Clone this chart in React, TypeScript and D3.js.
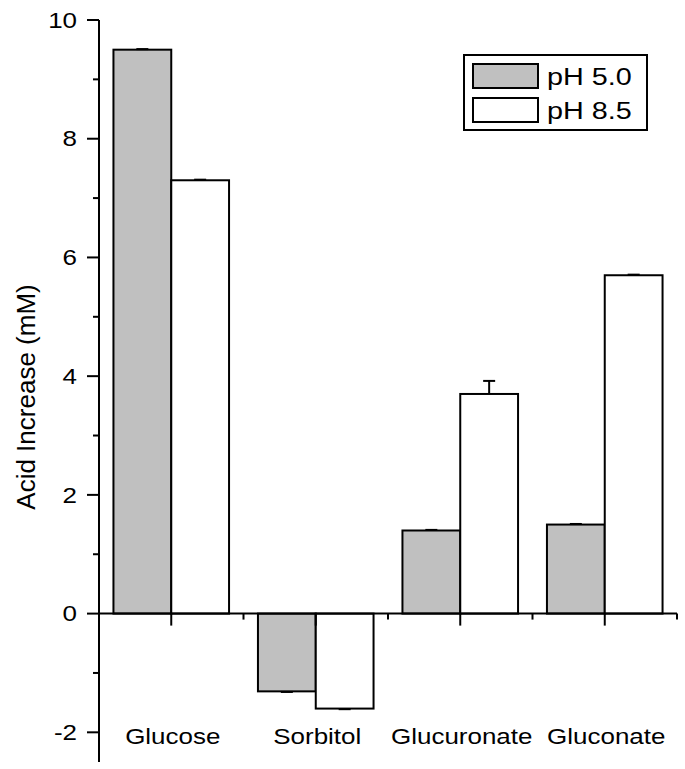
import * as d3 from "d3";

const categories = ["Glucose", "Sorbitol", "Glucuronate", "Gluconate"];
const seriesNames = ["pH 5.0", "pH 8.5"];
const ph50 = [9.5, -1.31, 1.4, 1.5];
const ph85 = [7.3, -1.6, 3.7, 5.7];
const ph50Err = [0.01, 0.01, 0.01, 0.01];
const ph85Err = [0.01, 0.01, 0.22, 0.01];
const yTicks = [-2, 0, 2, 4, 6, 8, 10];

const W = 685;
const H = 769;
const left = 99;
const right = 677;
const top = 20;
const bottom = 762;
const fills = ["#c0c0c0", "#ffffff"];
const font = "Liberation Sans, Arial, sans-serif";
// the source glyphs are a little wider than Liberation Sans
const stretch = 1.18;

export default function App() {
  const y = d3.scaleLinear().domain([-2.5, 10]).range([bottom, top]);
  const x = d3.scaleBand().domain(categories).range([left, right]).paddingInner(0).paddingOuter(0);
  const inner = d3
    .scaleBand()
    .domain(seriesNames)
    .range([x.bandwidth() * 0.1, x.bandwidth() * 0.9]);
  const series = [ph50, ph85];
  const errs = [ph50Err, ph85Err];

  return (
    <svg width={W} height={H} style={{ position: "absolute", left: 0, top: 0, background: "#fff" }}>
      {/* bars */}
      {categories.map((c, i) =>
        seriesNames.map((s, j) => {
          const v = series[j][i];
          const bx = x(c)! + inner(s)!;
          const bw = inner.bandwidth();
          const y0 = y(0);
          const y1 = y(v);
          const e = errs[j][i];
          const ey = y(v + (v >= 0 ? e : -e));
          const cx = bx + bw / 2;
          return (
            <g key={c + s}>
              <rect
                x={bx}
                y={Math.min(y0, y1)}
                width={bw}
                height={Math.abs(y1 - y0)}
                fill={fills[j]}
                stroke="#000"
                strokeWidth={2}
              />
              <line x1={cx} x2={cx} y1={y1} y2={ey} stroke="#000" strokeWidth={2} />
              <line x1={cx - 6} x2={cx + 6} y1={ey} y2={ey} stroke="#000" strokeWidth={2} />
            </g>
          );
        })
      )}

      {/* y axis */}
      <line x1={left} x2={left} y1={top} y2={bottom} stroke="#000" strokeWidth={2} />
      {yTicks.map((t) => (
        <g key={t}>
          <line x1={left - 12} x2={left} y1={y(t)} y2={y(t)} stroke="#000" strokeWidth={2} />
          <text
            transform={`translate(77,${y(t)}) scale(${stretch},1)`}
            dy="0.35em"
            textAnchor="end"
            fontFamily={font}
            fontSize={22}
          >
            {t}
          </text>
        </g>
      ))}
      {d3.range(-1, 10, 2).map((t) => (
        <line key={"m" + t} x1={left - 6} x2={left} y1={y(t)} y2={y(t)} stroke="#000" strokeWidth={2} />
      ))}
      <text
        transform={`translate(35,${397}) rotate(-90)`}
        textAnchor="middle"
        fontFamily={font}
        fontSize={26}
      >
        Acid Increase (mM)
      </text>

      {/* x axis at zero */}
      <line x1={left} x2={right} y1={y(0)} y2={y(0)} stroke="#000" strokeWidth={2} />
      {categories.map((c) => {
        const cx = x(c)! + x.bandwidth() / 2;
        return (
          <g key={"x" + c}>
            <line x1={cx} x2={cx} y1={y(0)} y2={y(0) + 12} stroke="#000" strokeWidth={2} />
            <line
              x1={x(c)! + x.bandwidth()}
              x2={x(c)! + x.bandwidth()}
              y1={y(0)}
              y2={y(0) + 6}
              stroke="#000"
              strokeWidth={2}
            />
            <text
              transform={`translate(${cx + 1.5},744) scale(${stretch},1)`}
              textAnchor="middle"
              fontFamily={font}
              fontSize={22}
            >
              {c}
            </text>
          </g>
        );
      })}

      {/* legend */}
      <rect x={464} y={55} width={183} height={75} fill="#fff" stroke="#000" strokeWidth={2} />
      {seriesNames.map((s, j) => (
        <g key={"lg" + s}>
          <rect
            x={473}
            y={64 + j * 34}
            width={65}
            height={24}
            fill={fills[j]}
            stroke="#000"
            strokeWidth={2}
          />
          <text
            transform={`translate(547,${85 + j * 34}) scale(1.25,1)`}
            fontFamily={font}
            fontSize={23}
          >
            {s}
          </text>
        </g>
      ))}
    </svg>
  );
}
